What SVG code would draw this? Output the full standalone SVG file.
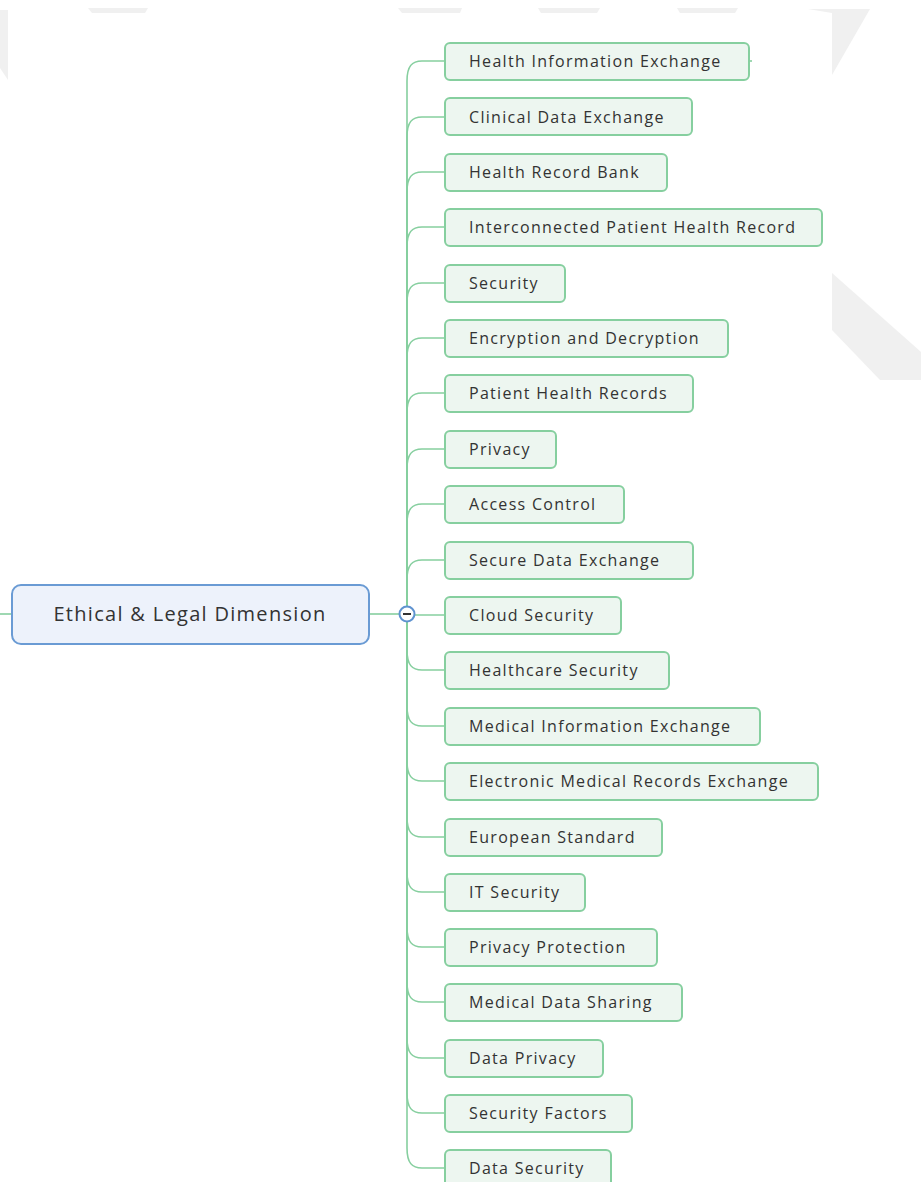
<svg xmlns="http://www.w3.org/2000/svg" width="921" height="1182" viewBox="0 0 921 1182">
<style>
.wm{fill:#f0f0f0}
.child rect{fill:#edf6f0;stroke:#86cf9f;stroke-width:2}
.child text{font-family:"Open Sans","Noto Sans",sans-serif;font-size:16px;fill:#333;letter-spacing:1.3px}
.conn path{fill:none;stroke:#86cf9f;stroke-width:1.6}
.blue{stroke:#5f93d0;stroke-width:1.6;fill:none}
</style>
<rect width="921" height="1182" fill="#fff"/>
<g id="watermark">
<polygon class="wm" points="88,8 148,8 145,13 92,13"/>
<polygon class="wm" points="398,8 462,8 460,13 402,13"/>
<polygon class="wm" points="538,8 600,8 597,13 541,13"/>
<polygon class="wm" points="677,8 738,8 735,13 680,13"/>
<polygon class="wm" points="808,9 870,9 832,75 832,13"/>
<polygon class="wm" points="0,10 8,10 8,80 0,68"/>
<polygon class="wm" points="832,273 921,352 921,380 880,380 832,330"/>
</g>
<g id="connectors" class="conn">
<path d="M407,614 V81 C407,66 412,61 422,61 H445"/>
<path d="M407,614 V137 C407,122 412,117 422,117 H445"/>
<path d="M407,614 V192 C407,177 412,172 422,172 H445"/>
<path d="M407,614 V247 C407,232 412,227 422,227 H445"/>
<path d="M407,614 V303 C407,288 412,283 422,283 H445"/>
<path d="M407,614 V358 C407,343 412,338 422,338 H445"/>
<path d="M407,614 V413 C407,398 412,393 422,393 H445"/>
<path d="M407,614 V469 C407,454 412,449 422,449 H445"/>
<path d="M407,614 V524 C407,509 412,504 422,504 H445"/>
<path d="M407,614 V580 C407,565 412,560 422,560 H445"/>
<path d="M407,615 H445"/>
<path d="M407,614 V650 C407,665 412,670 422,670 H445"/>
<path d="M407,614 V706 C407,721 412,726 422,726 H445"/>
<path d="M407,614 V761 C407,776 412,781 422,781 H445"/>
<path d="M407,614 V817 C407,832 412,837 422,837 H445"/>
<path d="M407,614 V872 C407,887 412,892 422,892 H445"/>
<path d="M407,614 V927 C407,942 412,947 422,947 H445"/>
<path d="M407,614 V982 C407,997 412,1002 422,1002 H445"/>
<path d="M407,614 V1038 C407,1053 412,1058 422,1058 H445"/>
<path d="M407,614 V1093 C407,1108 412,1113 422,1113 H445"/>
<path d="M407,614 V1148 C407,1163 412,1168 422,1168 H445"/>
<path d="M749,61 H752"/>
<path class="blue" d="M0,614 H12"/>
<path class="blue" d="M369,614 H399"/>
</g>
<g id="root">
<rect x="12" y="585" width="357" height="59" rx="9" fill="#edf2fb" stroke="#6a9bd4" stroke-width="2"/>
<text x="190" y="621" text-anchor="middle" font-family="Open Sans,Noto Sans,sans-serif" font-size="20" letter-spacing="1.3" fill="#333">Ethical &amp; Legal Dimension</text>
</g>
<g id="collapse">
<circle cx="407" cy="614" r="7.5" fill="#fff" stroke="#5f93d0" stroke-width="2"/>
<path d="M403,614 H411" stroke="#333" stroke-width="2"/>
</g>
<g id="n1" class="child"><rect x="445" y="43" width="304" height="37" rx="5"/><text x="469" y="67">Health Information Exchange</text></g>
<g id="n2" class="child"><rect x="445" y="98" width="247" height="37" rx="5"/><text x="469" y="123">Clinical Data Exchange</text></g>
<g id="n3" class="child"><rect x="445" y="154" width="222" height="37" rx="5"/><text x="469" y="178">Health Record Bank</text></g>
<g id="n4" class="child"><rect x="445" y="209" width="377" height="37" rx="5"/><text x="469" y="233">Interconnected Patient Health Record</text></g>
<g id="n5" class="child"><rect x="445" y="265" width="120" height="37" rx="5"/><text x="469" y="289">Security</text></g>
<g id="n6" class="child"><rect x="445" y="320" width="283" height="37" rx="5"/><text x="469" y="344">Encryption and Decryption</text></g>
<g id="n7" class="child"><rect x="445" y="375" width="248" height="37" rx="5"/><text x="469" y="399">Patient Health Records</text></g>
<g id="n8" class="child"><rect x="445" y="431" width="111" height="37" rx="5"/><text x="469" y="455">Privacy</text></g>
<g id="n9" class="child"><rect x="445" y="486" width="179" height="37" rx="5"/><text x="469" y="510">Access Control</text></g>
<g id="n10" class="child"><rect x="445" y="542" width="248" height="37" rx="5"/><text x="469" y="566">Secure Data Exchange</text></g>
<g id="n11" class="child"><rect x="445" y="597" width="176" height="37" rx="5"/><text x="469" y="621">Cloud Security</text></g>
<g id="n12" class="child"><rect x="445" y="652" width="224" height="37" rx="5"/><text x="469" y="676">Healthcare Security</text></g>
<g id="n13" class="child"><rect x="445" y="708" width="315" height="37" rx="5"/><text x="469" y="732">Medical Information Exchange</text></g>
<g id="n14" class="child"><rect x="445" y="763" width="373" height="37" rx="5"/><text x="469" y="787">Electronic Medical Records Exchange</text></g>
<g id="n15" class="child"><rect x="445" y="819" width="217" height="37" rx="5"/><text x="469" y="843">European Standard</text></g>
<g id="n16" class="child"><rect x="445" y="874" width="140" height="37" rx="5"/><text x="469" y="898">IT Security</text></g>
<g id="n17" class="child"><rect x="445" y="929" width="212" height="37" rx="5"/><text x="469" y="953">Privacy Protection</text></g>
<g id="n18" class="child"><rect x="445" y="984" width="237" height="37" rx="5"/><text x="469" y="1008">Medical Data Sharing</text></g>
<g id="n19" class="child"><rect x="445" y="1040" width="158" height="37" rx="5"/><text x="469" y="1064">Data Privacy</text></g>
<g id="n20" class="child"><rect x="445" y="1095" width="187" height="37" rx="5"/><text x="469" y="1119">Security Factors</text></g>
<g id="n21" class="child"><rect x="445" y="1150" width="166" height="37" rx="5"/><text x="469" y="1174">Data Security</text></g>
</svg>
